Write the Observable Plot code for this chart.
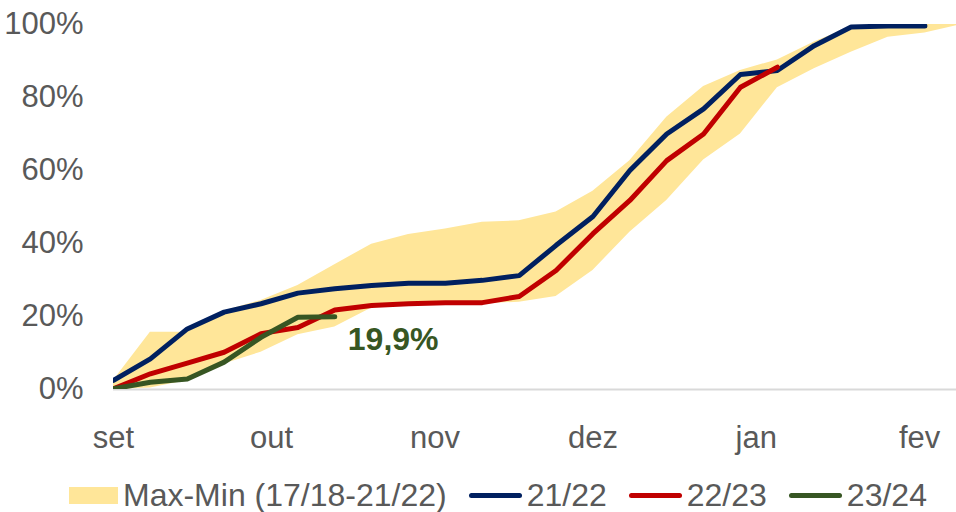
<!DOCTYPE html>
<html>
<head>
<meta charset="utf-8">
<script src="https://cdn.jsdelivr.net/npm/d3@7"></script>
<script src="https://cdn.jsdelivr.net/npm/@observablehq/plot@0.6"></script>
<style>
  html, body { margin: 0; padding: 0; background: #fff; }
  #chart { width: 956px; }
  .legend { display: flex; align-items: center; height: 40px; padding-left: 69px;
            font-family: "Liberation Sans", Arial, sans-serif; font-size: 32px; color: #595959; white-space: nowrap; }
  .legend .sw { display: inline-block; margin-right: 5px; }
  .legend .item { display: flex; align-items: center; margin-right: 22px; }
  .legend .rect { width: 49px; height: 17px; background: #FFE699; }
  .legend .ln { width: 53px; height: 5px; border-radius: 3px; }
</style>
</head>
<body>
<div id="chart"></div>
<script>
// Weekly dates (season Sept → Feb)
const weeks = ["2000-09-01","2000-09-08","2000-09-15","2000-09-22","2000-09-29",
  "2000-10-06","2000-10-13","2000-10-20","2000-10-27","2000-11-03","2000-11-10",
  "2000-11-17","2000-11-24","2000-12-01","2000-12-08","2000-12-15","2000-12-22",
  "2000-12-29","2001-01-05","2001-01-12","2001-01-19","2001-01-26","2001-02-02","2001-02-09"];

// Month tick positions and labels
const monthDates = ["2000-09-01","2000-10-01","2000-11-01","2000-12-01","2001-01-01","2001-02-01"];
const monthLabels = ["set","out","nov","dez","jan","fev"];
const yTicks = [0, 0.2, 0.4, 0.6, 0.8, 1.0];

// Max-Min band (17/18-21/22), % accumulated
const bandMax = [2.5, 15.7, 15.7, 21.5, 24.4, 28.5, 34.2, 39.8, 42.5, 44.0, 45.8, 46.2,
                 48.6, 54.3, 62.7, 74.6, 83.0, 87.4, 90.3, 95.2, 99.3, 100, 100, 100];
const bandMin = [0.0, 0.4, 2.5, 7.0, 10.2, 15.0, 17.1, 22.3, 23.0, 23.3, 23.5, 23.9,
                 25.5, 32.6, 43.1, 51.8, 62.9, 70.0, 82.7, 87.9, 92.4, 96.5, 97.7, 100];

// Seasons
const s2122 = [2.5, 8.4, 16.6, 21.2, 23.5, 26.4, 27.6, 28.5, 29.1, 29.1, 29.9, 31.2,
               39.5, 47.4, 60.0, 70.0, 76.9, 86.3, 87.4, 94.2, 99.3, 99.6, 99.6];
const s2223 = [0.2, 4.3, 7.2, 10.2, 15.3, 17.0, 21.8, 23.0, 23.5, 23.8, 23.8, 25.5,
               32.6, 42.7, 51.8, 62.7, 70.0, 82.8, 88.3];
const s2324 = [0.2, 2.0, 2.9, 7.5, 14.3, 19.8, 19.9];

const seriesNames = ["21/22", "22/23", "23/24"];
const seriesColors = ["#002060", "#C00000", "#375623"];
const bandColor = "#FFE699";

const band = weeks.map((w, i) => ({date: new Date(w), lo: bandMin[i] / 100, hi: bandMax[i] / 100}));
const toRows = (arr, name) => arr.map((v, i) => ({date: new Date(weeks[i]), v: v / 100, name}));
const lines = [toRows(s2122, seriesNames[0]), toRows(s2223, seriesNames[1]), toRows(s2324, seriesNames[2])];
const lastGreen = lines[2][lines[2].length - 1];

const labelByTime = new Map(monthDates.map((d, i) => [+new Date(d), monthLabels[i]]));

const plot = Plot.plot({
  width: 956,
  height: 475,
  marginLeft: 113,
  marginRight: 0,
  marginTop: 24,
  marginBottom: 86,
  style: {fontFamily: "Liberation Sans, Arial, sans-serif", fontSize: "31px", color: "#595959", background: "white", overflow: "visible"},
  x: {type: "utc", domain: [new Date("2000-09-01"), new Date("2001-02-08")]},
  y: {domain: [0, 1]},
  marks: [
    Plot.ruleY([0], {stroke: "#D9D9D9", strokeWidth: 2}),
    Plot.areaY(band, {x: "date", y1: "lo", y2: "hi", fill: bandColor, clip: true}),
    ...lines.map((rows, k) => Plot.line(rows, {x: "date", y: "v", stroke: seriesColors[k], strokeWidth: 5,
      strokeLinejoin: "round", strokeLinecap: "round", clip: true})),
    Plot.text([lastGreen], {x: "date", y: "v", text: d => d3.format(".1f")(d.v * 100).replace(".", ",") + "%",
      textAnchor: "start", lineAnchor: "middle", dx: 13, dy: 23, fill: seriesColors[2], fontWeight: "bold", fontSize: 32}),
    Plot.axisY({ticks: yTicks, tickFormat: d3.format(".0%"), tickSize: 0, tickPadding: 30}),
    Plot.axisX({ticks: monthDates.map(d => new Date(d)), tickFormat: d => labelByTime.get(+d), tickSize: 0, tickPadding: 36, label: null})
  ]
});

const chart = document.getElementById("chart");
chart.appendChild(plot);

const legend = document.createElement("div");
legend.className = "legend";
let html = `<span class="item"><span class="sw rect"></span>Max-Min (17/18-21/22)</span>`;
seriesNames.forEach((n, i) => {
  html += `<span class="item"><span class="sw ln" style="background:${seriesColors[i]}"></span>${n}</span>`;
});
legend.innerHTML = html;
chart.appendChild(legend);
</script>
</body>
</html>
